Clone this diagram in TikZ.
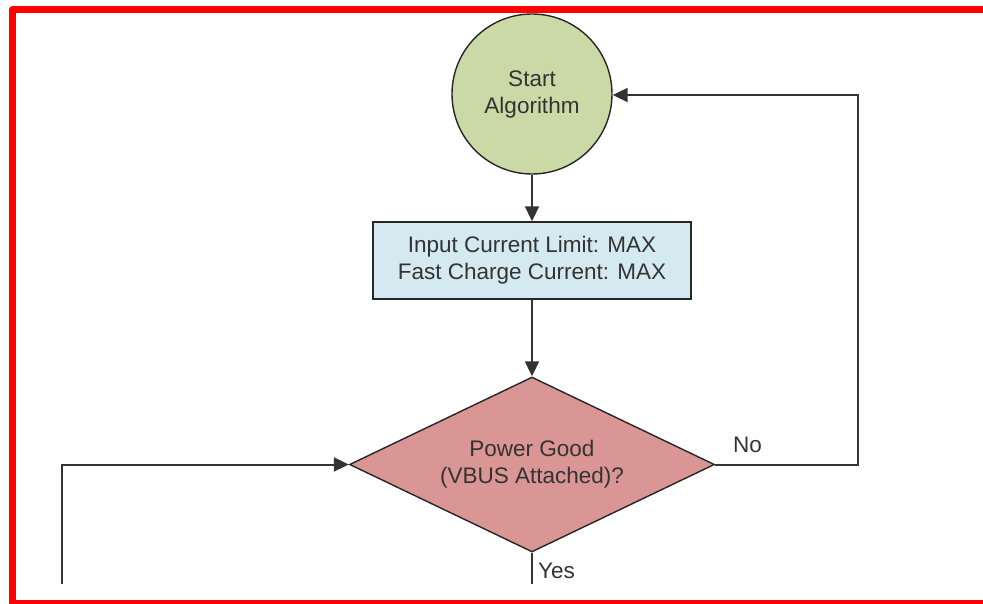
\documentclass[tikz,border=0pt]{standalone}
\usepackage{fontspec}
\setmainfont{Liberation Sans}
\usetikzlibrary{shapes.geometric,arrows.meta}
\definecolor{startgreen}{HTML}{CAD9A6}
\definecolor{boxblue}{HTML}{D4EAF0}
\definecolor{decred}{HTML}{D99694}
\definecolor{txt}{HTML}{333333}
\definecolor{frame}{HTML}{FF0000}
\tikzset{
  shapeline/.style={draw=black!85, line width=1.4pt, text=txt, font=\fontsize{22.5}{27}\selectfont, align=center, inner sep=0pt},
  startnode/.style={shapeline, circle, fill=startgreen, minimum size=160pt},
  procbox/.style={shapeline, rectangle, fill=boxblue, minimum width=318pt, minimum height=77pt},
  decision/.style={shapeline, diamond, aspect=2.09, fill=decred, minimum width=365pt, minimum height=175pt},
  conn/.style={draw=black!80, line width=2pt},
  arr/.style={conn, -{Triangle[length=15pt,width=14pt]}},
  lbl/.style={text=txt, font=\fontsize{22.5}{27}\selectfont, inner sep=0pt}
}
\begin{document}
\begin{tikzpicture}[x=1pt,y=-1pt]
\useasboundingbox (0,0) rectangle (983,604);
\begin{scope}
\clip (0,0) rectangle (983,604);
\draw[frame, line width=7pt, line join=round] (990,9.5) -- (12.5,9.5) -- (12.5,603.5) -- (990,603.5);
\end{scope}

\node[startnode] (start) at (532,94) {Start\\Algorithm};
\node[procbox] (limit) at (532,260.5) {Input Current Limit: MAX\\Fast Charge Current: MAX};
\node[decision] (pg) at (532,464.5) {Power Good\\(VBUS Attached)?};

\coordinate (noturn) at (858,464.5);
\coordinate (notop) at (858,95);
\coordinate (yesend) at (532,584);
\coordinate (leftbot) at (62,584);
\coordinate (lefttop) at (62,464.5);

\draw[arr] (start.south) -- (limit.north);
\draw[arr] (limit.south) -- (pg.north);
\draw[arr] (pg.east) -- (noturn) -- (notop) -- (start.east |- notop);
\draw[conn] (pg.south) -- (yesend);
\draw[arr] (leftbot) -- (lefttop) -- (pg.west);

\node[lbl, anchor=base west] (nolbl) at (733,452) {No};
\node[lbl, anchor=base west] (yeslbl) at (538,578) {Yes};
\end{tikzpicture}
\end{document}
